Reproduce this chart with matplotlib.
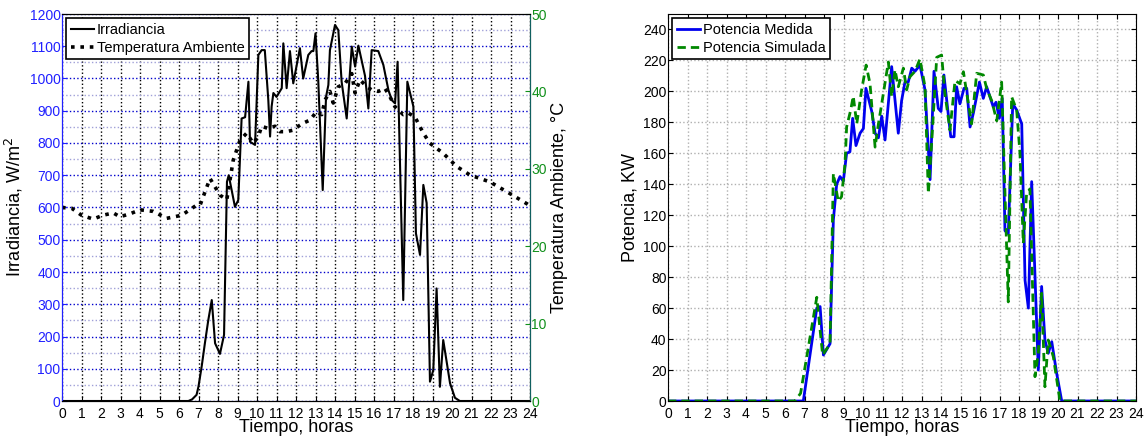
import matplotlib
matplotlib.use("Agg")
from matplotlib import pyplot as plt
import numpy as np

plt.rcParams['font.family'] = ['Liberation Sans Narrow', 'Liberation Sans', 'DejaVu Sans']

# Irradiancia (W/m2)
t_irr = [0, 6.48, 6.67, 6.9, 7.0, 7.17, 7.33, 7.5, 7.68, 7.85, 8.1, 8.31, 8.46, 8.55,
         8.87, 9.04, 9.21, 9.39, 9.56, 9.64, 9.9, 10.07, 10.24, 10.4, 10.58, 10.67,
         10.75, 10.84, 11.0, 11.27, 11.35, 11.52, 11.69, 11.86, 12.2, 12.37, 12.63,
         12.8, 12.89, 13.0, 13.14, 13.37, 13.54, 13.66, 13.74, 14.0, 14.17, 14.34,
         14.6, 14.86, 15.03, 15.2, 15.54, 15.71, 15.88, 16.22, 16.48, 16.74, 16.91,
         17.08, 17.21, 17.5, 17.71, 18.02, 18.15, 18.36, 18.53, 18.7, 18.87, 19.04,
         19.21, 19.38, 19.55, 19.9, 20.15, 20.4, 24]
irr = [0, 0, 5, 19, 45, 110, 180, 250, 313, 179, 146, 205, 680, 700,
       602, 623, 876, 880, 990, 804, 794, 1073, 1088, 1088, 933, 820,
       913, 955, 943, 970, 1109, 970, 1085, 985, 1094, 1000, 1073,
       1085, 1085, 1140, 995, 654, 943, 980, 1088, 1166, 1150, 990,
       876, 1099, 1037, 1102, 1008, 907, 1088, 1085, 1042, 964, 933,
       923, 1052, 313, 990, 913, 520, 453, 670, 614, 60, 96,
       349, 44, 189, 55, 10, 0, 0]

# Temperatura ambiente (C)
t_temp = [0, 0.5, 1.0, 1.6, 2.1, 2.63, 2.97, 3.5, 4.0, 4.68, 5.37, 6.14, 6.9, 7.08,
          7.59, 8.1, 8.45, 8.78, 9.13, 9.47, 9.81, 10.07, 10.24, 10.58, 10.92, 11.18,
          11.52, 11.86, 12.12, 12.37, 12.72, 13.06, 13.32, 13.49, 13.74, 13.91, 14.17,
          14.51, 14.86, 15.03, 15.28, 15.63, 15.88, 16.22, 16.56, 16.82, 17.08, 17.5,
          17.76, 18.1, 18.53, 18.87, 19.55, 20.24, 20.92, 21.95, 22.97, 23.83, 24]
temp = [25.0, 24.9, 24.0, 23.5, 24.0, 24.3, 23.8, 24.2, 24.7, 24.5, 23.6, 24.0, 25.3, 25.3,
        28.75, 26.6, 26.0, 31.1, 33.7, 34.6, 33.3, 34.2, 35.5, 35.2, 35.5, 34.8,
        34.8, 35.0, 35.5, 35.9, 36.3, 37.4, 37.0, 38.9, 40.0, 38.5, 40.6,
        41.0, 42.3, 39.8, 41.5, 40.6, 40.2, 40.0, 40.4, 39.3, 38.0, 37.0,
        37.2, 36.7, 34.6, 33.3, 32.0, 30.3, 29.2, 28.3, 26.8, 25.5, 25.2]

# Potencia medida (KW)
t_med = [0, 6.94, 7.63, 7.8, 7.97, 8.31, 8.48, 8.65, 8.82, 8.99, 9.16, 9.33, 9.47,
         9.64, 9.85, 10.02, 10.15, 10.45, 10.62, 10.79, 10.96, 11.13, 11.47, 11.81,
         11.98, 12.15, 12.32, 12.5, 12.67, 12.92, 13.18, 13.44, 13.64, 13.86, 14.0,
         14.15, 14.5, 14.67, 14.8, 14.97, 15.18, 15.32, 15.49, 15.66, 15.97, 16.17,
         16.34, 16.68, 16.82, 16.99, 17.14, 17.28, 17.45, 17.68, 17.88, 18.14, 18.31,
         18.48, 18.65, 18.99, 19.16, 19.33, 19.5, 19.68, 19.93, 20.19, 24]
p_med = [0, 0, 60, 61, 29.7, 37, 117, 140, 145, 142, 160, 161, 182.6,
         165, 173, 176, 202, 187, 173, 170, 184, 168.6, 216, 173,
         194, 206, 206, 215, 213, 217, 201, 143, 213, 189, 187,
         210.6, 170.7, 170.7, 203, 192, 202, 202, 177, 186, 206, 195.5,
         203, 190, 193, 182.6, 195.5, 110, 108, 192, 188, 179, 78,
         60, 141.7, 20, 74, 39.4, 30.8, 38.3, 18, 0, 0]

# Potencia simulada (KW)
t_sim = [0, 6.51, 6.8, 7.63, 7.93, 8.31, 8.48, 8.73, 8.9, 9.08, 9.16, 9.37, 9.5,
         9.68, 9.93, 10.16, 10.36, 10.62, 10.79, 10.96, 11.3, 11.47, 11.64, 11.81,
         12.07, 12.24, 12.41, 12.67, 12.92, 13.18, 13.35, 13.52, 13.78, 14.03, 14.2,
         14.46, 14.72, 14.97, 15.15, 15.32, 15.57, 15.83, 16.17, 16.34, 16.6, 16.86,
         17.11, 17.45, 17.62, 17.88, 18.05, 18.22, 18.39, 18.56, 18.82, 18.99, 19.16,
         19.33, 19.5, 19.76, 20.1, 24]
p_sim = [0, 0, 5, 67, 29.7, 37, 147, 129, 132, 153.5, 177, 188, 197,
         179, 201, 217, 205, 164, 179, 192, 219, 196.6, 214, 203,
         215, 201, 209.5, 213, 221, 203, 134, 166.5, 222, 223.5, 198.8,
         175, 207, 205, 212.7, 198.8, 179, 211.7, 210.6, 202, 194, 181,
         206, 64, 196.6, 188, 160, 102, 134, 137, 15.7, 30.8, 69.6,
         9.2, 39.4, 28.6, 0, 0]

hours = np.arange(0, 25)
blue = '#2020ff'
green = '#10901a'
tick_fs = 10

fig = plt.figure(figsize=(11.45, 4.44), dpi=100)

# ---- left panel ----
ax1 = fig.add_axes([62 / 1145, 43 / 444, 468 / 1145, 387 / 444])
ax2 = ax1.twinx()
l1, = ax1.plot(t_irr, irr, color='black', lw=1.5, label='Irradiancia')
l2, = ax2.plot(t_temp, temp, color='black', lw=2.6, linestyle=(0, (1, 1.6)),
               label='Temperatura Ambiente')
ax1.set_xlim(0, 24)
ax1.set_ylim(0, 1200)
ax2.set_ylim(0, 50)
ax1.set_xticks(hours)
ax1.set_yticks(np.arange(0, 1201, 100))
ax1.set_yticks(np.arange(50, 1200, 100), minor=True)
ax2.set_yticks(np.arange(0, 51, 10))
ax1.grid(True, axis='y', which='major', color='#0000cc', linestyle=':', lw=1)
ax1.grid(True, axis='y', which='minor', color='#a0a0d8', linestyle=':', lw=1)
ax1.grid(True, axis='x', color='black', linestyle=':', lw=1)
ax1.tick_params(axis='y', which='minor', length=0)
ax1.tick_params(axis='y', colors=blue, direction='in', labelsize=tick_fs, pad=1)
ax1.tick_params(axis='x', direction='in', labelsize=tick_fs, pad=4)
ax2.tick_params(axis='y', colors=green, direction='in', labelsize=tick_fs, pad=1)
ax1.spines['left'].set_color(blue)
ax2.spines['left'].set_color(blue)
ax2.spines['right'].set_color('#106060')
ax1.set_xlabel('Tiempo, horas', fontsize=13, labelpad=-1)
ax1.set_ylabel('Irradiancia, W/m$^2$', fontsize=13, labelpad=3)
ax2.set_ylabel('Temperatura Ambiente, °C', fontsize=13, labelpad=3)
leg = ax1.legend(handles=[l1, l2], loc='upper left', fontsize=10.5, fancybox=False,
                 framealpha=1, edgecolor='black', handlelength=1.6, handletextpad=0.2,
                 borderpad=0.3, labelspacing=0.3, borderaxespad=0.3)
leg.get_frame().set_linewidth(1.2)

# ---- right panel ----
ax3 = fig.add_axes([668 / 1145, 43 / 444, 468 / 1145, 387 / 444])
ax3.plot(t_med, p_med, color='#0000ee', lw=2, label='Potencia Medida')
ax3.plot(t_sim, p_sim, color='#008800', lw=2, linestyle=(0, (3, 1.8)),
         label='Potencia Simulada')
ax3.set_xlim(0, 24)
ax3.set_ylim(0, 250)
ax3.set_xticks(hours)
ax3.set_yticks(np.arange(0, 241, 20))
ax3.grid(True, color='#b0b0b0', linestyle=':', lw=1)
ax3.tick_params(direction='in', labelsize=tick_fs, top=True, right=True)
ax3.tick_params(axis='y', pad=1)
ax3.tick_params(axis='x', pad=4)
ax3.set_xlabel('Tiempo, horas', fontsize=13, labelpad=-1)
ax3.set_ylabel('Potencia, KW', fontsize=13, labelpad=3)
leg2 = ax3.legend(loc='upper left', fontsize=10.5, fancybox=False, framealpha=1,
                  edgecolor='black', handlelength=1.6, handletextpad=0.2,
                  borderpad=0.3, labelspacing=0.3, borderaxespad=0.3)
leg2.get_frame().set_linewidth(1.2)

fig.savefig('out.png', dpi=100)
